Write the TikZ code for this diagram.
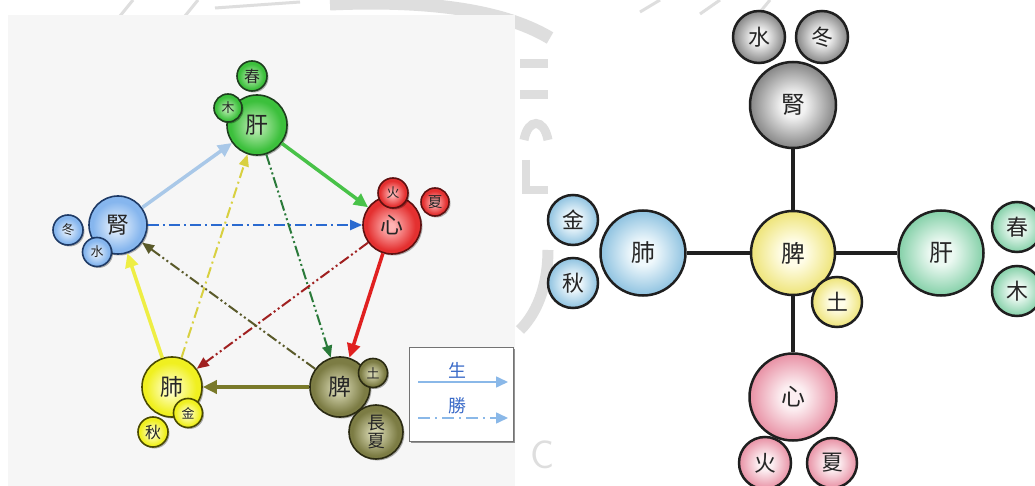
\documentclass[tikz,border=0pt]{standalone}
\usepackage{fontspec}
\newfontfamily\cjk{Noto Sans CJK TC}
\usetikzlibrary{arrows.meta,shadows}
\makeatletter
% glossy sphere: light core, body colour towards the rim
% (the disc rim sits at 25bp inside a shading)
\pgfdeclareradialshading[tikz@radial@inner,tikz@radial@outer]{orb}{\pgfpoint{-1.5bp}{-1.5bp}}%
  {color(0bp)=(tikz@radial@inner);color(3bp)=(tikz@radial@inner);color(21bp)=(tikz@radial@outer);color(50bp)=(tikz@radial@outer)}
% soft disc: pale centre fading to the rim colour
\pgfdeclareradialshading[tikz@radial@inner,tikz@radial@outer]{softorb}{\pgfpoint{0bp}{0bp}}%
  {color(0bp)=(tikz@radial@inner);color(7bp)=(tikz@radial@inner);color(25bp)=(tikz@radial@outer);color(50bp)=(tikz@radial@outer)}
\makeatother

% five-phase palettes (cycle diagram)
\definecolor{gOut}{HTML}{3CC03C}\definecolor{gIn}{HTML}{B4EAAC}\definecolor{gLine}{HTML}{1E3E1E}
\definecolor{bOut}{HTML}{86B6EE}\definecolor{bIn}{HTML}{E2EEFC}\definecolor{bLine}{HTML}{1E3A66}
\definecolor{rOut}{HTML}{E43030}\definecolor{rIn}{HTML}{FFB4B4}\definecolor{rLine}{HTML}{5E1010}
\definecolor{yOut}{HTML}{F0F020}\definecolor{yIn}{HTML}{FFFFC8}\definecolor{yLine}{HTML}{4A4A00}
\definecolor{oOut}{HTML}{7C7C44}\definecolor{oIn}{HTML}{D4D4AE}\definecolor{oLine}{HTML}{2A2A12}
% palettes (spleen-centred diagram)
\definecolor{kOut}{HTML}{858585}\definecolor{kIn}{HTML}{F2F2F2}
\definecolor{sOut}{HTML}{EEE478}\definecolor{sIn}{HTML}{FFFDE8}
\definecolor{uOut}{HTML}{8EC2E0}\definecolor{uIn}{HTML}{EFF8FC}
\definecolor{tOut}{HTML}{84D0A8}\definecolor{tIn}{HTML}{ECF9F2}
\definecolor{pOut}{HTML}{E890A4}\definecolor{pIn}{HTML}{FCEEF1}
% arrow colours
\definecolor{aBlue}{HTML}{A9C8E8}\definecolor{aGreen}{HTML}{48C248}
\definecolor{aRed}{HTML}{E02020}\definecolor{aOlive}{HTML}{7A7A2A}
\definecolor{aYellow}{HTML}{EEEE44}
\definecolor{dBlue}{HTML}{2A6AD0}\definecolor{dGreen}{HTML}{2A7A3A}
\definecolor{dRed}{HTML}{A02020}\definecolor{dOlive}{HTML}{5A5A2A}
\definecolor{dKhaki}{HTML}{D8D040}
\definecolor{legBlue}{HTML}{8AB8E8}\definecolor{legText}{HTML}{3A6AC8}
\definecolor{panel}{HTML}{F6F6F6}\definecolor{mark}{HTML}{DEDEDE}

\tikzset{
  orbfill/.style 2 args={inner color=#2, outer color=#1, shading=orb},
  softfill/.style 2 args={inner color=#2, outer color=#1, shading=softorb},
  lorb/.style={circle, inner sep=0pt, line width=1.6bp, text=black!85,
    drop shadow={shadow xshift=1.5bp, shadow yshift=-1.5bp, opacity=.3, fill=black}},
  lbig/.style={lorb, font=\cjk\fontsize{23}{23}\selectfont},
  lsmall/.style={lorb, font=\cjk\fontsize{13}{13}\selectfont},
  lgreen/.style={draw=gLine, orbfill={gOut}{gIn}},
  lblue/.style={draw=bLine, orbfill={bOut}{bIn}},
  lred/.style={draw=rLine, orbfill={rOut}{rIn}},
  lyellow/.style={draw=yLine, orbfill={yOut}{yIn}},
  lolive/.style={draw=oLine, orbfill={oOut}{oIn}},
  rorb/.style={circle, inner sep=0pt, line width=2.5bp, draw=black!88, text=black!85},
  rbig/.style={rorb, font=\cjk\fontsize{24}{24}\selectfont},
  rsmall/.style={rorb, minimum size=50bp, font=\cjk\fontsize{22}{22}\selectfont},
  gen/.style={line width=3.5bp, -{Triangle[length=14bp,width=13bp]}},
  ctrl/.style={line width=2bp, dash pattern=on 11bp off 4bp on 2bp off 4bp,
    -{Triangle[length=12bp,width=10bp]}},
  ctrltwo/.style={line width=2bp, dash pattern=on 11bp off 3bp on 2bp off 3bp on 2bp off 3bp,
    -{Triangle[length=12bp,width=10bp]}},
  spoke/.style={line width=3.5bp, draw=black!88},
  wm/.style={draw=mark, line cap=butt}
}

\begin{document}
\begin{tikzpicture}[x=1bp, y=-1bp]
\useasboundingbox (0,0) rectangle (1035,486);
\clip (0,0) rectangle (1035,486);
\fill[white] (0,0) rectangle (1035,486);

% faint seal behind the figures
\draw[wm, line width=13bp] (330,4) .. controls (420,0) and (500,8) .. (550,38);
\draw[wm, line width=3bp] (120,16) -- (133,0) (185,16) -- (198,0) (215,8) -- (300,2);
\draw[wm, line width=9bp] (520,64) -- (548,64) (520,95) -- (548,95);
\draw[wm, line width=9bp] (524,140) .. controls (528,118) and (544,118) .. (548,140);
\draw[wm, line width=8bp] (526,160) -- (526,190) -- (548,190);
\draw[wm, line width=11bp] (520,330) .. controls (540,310) and (548,280) .. (548,250);
\draw[wm, line width=3bp] (640,12) -- (660,0) (700,14) -- (720,0) (760,12) -- (770,0);
\node[text=mark, font=\sffamily\fontsize{40}{40}\selectfont] (seal) at (542,455) {C};

% ---------- five-phase cycle ----------
\fill[panel] (8,15) rectangle (515,486);

\node[lbig, lgreen,  minimum size=60bp] (gan)  at (257,125) {肝};
\node[lbig, lblue,   minimum size=58bp] (shen) at (118,225) {腎};
\node[lbig, lred,    minimum size=58bp] (xin)  at (392,225) {心};
\node[lbig, lyellow, minimum size=60bp] (fei)  at (172,387) {肺};
\node[lbig, lolive,  minimum size=60bp] (pi)   at (340,387) {脾};

\node[lsmall, lgreen,  minimum size=28bp] (mu)   at (228,108) {木};
\node[lsmall, lgreen,  minimum size=30bp, font=\cjk\fontsize{16}{16}\selectfont] (chun) at (252,76) {春};
\node[lsmall, lblue,   minimum size=30bp] (dong) at (68,230) {冬};
\node[lsmall, lblue,   minimum size=29bp] (shui) at (97,252) {水};
\node[lsmall, lred,    minimum size=30bp] (huo)  at (393,193) {火};
\node[lsmall, lred,    minimum size=28bp, font=\cjk\fontsize{15}{15}\selectfont] (xia) at (435,202) {夏};
\node[lsmall, lyellow, minimum size=29bp] (jin)  at (188,413) {金};
\node[lsmall, lyellow, minimum size=30bp, font=\cjk\fontsize{16}{16}\selectfont] (qiu) at (153,432) {秋};
\node[lsmall, lolive,  minimum size=29bp] (tu)   at (373,373) {土};
\node[lsmall, lolive,  minimum size=54bp, align=center,
      font=\cjk\fontsize{18}{19}\selectfont] (cxia) at (376,432) {長\\夏};

% generating cycle
\draw[gen, aBlue]   (shen) to[shorten <=7bp,  shorten >=12bp] (gan);
\draw[gen, aGreen]  (gan)  to[shorten <=9bp,  shorten >=9bp]  (xin);
\draw[gen, aRed]    (xin)  to[shorten <=12bp, shorten >=17bp] (pi);
\draw[gen, aOlive]  (pi)   to[shorten <=10bp, shorten >=11bp] (fei);
\draw[gen, aYellow] (fei)  to[shorten <=12bp, shorten >=10bp] (shen);
% restraining cycle
\draw[ctrl, dBlue]     (shen) to[shorten <=11bp, shorten >=11bp] (xin);
\draw[ctrltwo, dGreen] (gan)  to[shorten <=19bp, shorten >=13bp] (pi);
\draw[ctrltwo, dRed]   (xin)  to[shorten <=18bp, shorten >=11bp] (fei);
\draw[ctrltwo, dOlive] (pi)   to[shorten <=15bp, shorten >=13bp] (shen);
\draw[ctrl, dKhaki]    (fei)  to[shorten <=12bp, shorten >=14bp] (gan);

% legend
\node[draw=black!55, fill=white, line width=1bp, minimum width=104bp, minimum height=93bp,
      drop shadow={shadow xshift=1.5bp, shadow yshift=-1.5bp, opacity=.4, fill=black}]
      (legend) at (461,394.5) {};
\node[text=legText, font=\cjk\fontsize{18}{18}\selectfont] (sheng) at (457,370) {生};
\node[text=legText, font=\cjk\fontsize{18}{18}\selectfont] (sheng2) at (457,406) {勝};
\coordinate (la) at (418,382); \coordinate (lb) at (508,382);
\coordinate (lc) at (418,418); \coordinate (ld) at (508,418);
\draw[legBlue, line width=1.6bp, -{Triangle[length=12bp,width=11bp]}] (la) -- (lb);
\draw[legBlue, line width=1.6bp, dash pattern=on 12bp off 5bp on 2bp off 5bp,
      -{Triangle[length=12bp,width=11bp]}] (lc) -- (ld);

% ---------- spleen-centred layout ----------
\node[rbig, minimum size=86bp, softfill={kOut}{kIn}] (rshen) at (793,105) {腎};
\node[rbig, minimum size=84bp, softfill={sOut}{sIn}] (rpi)   at (793,253) {脾};
\node[rbig, minimum size=85bp, softfill={uOut}{uIn}] (rfei)  at (643,253) {肺};
\node[rbig, minimum size=85bp, softfill={tOut}{tIn}] (rgan)  at (941,253) {肝};
\node[rbig, minimum size=87bp, softfill={pOut}{pIn}] (rxin)  at (793,397) {心};

\draw[spoke] (rshen) -- (rpi);
\draw[spoke] (rfei)  -- (rpi);
\draw[spoke] (rpi)   -- (rgan);
\draw[spoke] (rpi)   -- (rxin);

\node[rsmall, minimum size=52bp, softfill={kOut}{kIn}] (rshui) at (759,37)  {水};
\node[rsmall, minimum size=52bp, softfill={kOut}{kIn}] (rdong) at (822,37)  {冬};
\node[rsmall, softfill={sOut}{sIn}] (rtu)   at (837,302) {土};
\node[rsmall, softfill={uOut}{uIn}] (rjin)  at (573,220) {金};
\node[rsmall, softfill={uOut}{uIn}] (rqiu)  at (573,283) {秋};
\node[rsmall, softfill={tOut}{tIn}] (rchun) at (1017,227) {春};
\node[rsmall, softfill={tOut}{tIn}] (rmu)   at (1017,291) {木};
\node[rsmall, minimum size=52bp, softfill={pOut}{pIn}] (rhuo) at (765,463) {火};
\node[rsmall, softfill={pOut}{pIn}] (rxia)  at (832,463) {夏};
\end{tikzpicture}
\end{document}
